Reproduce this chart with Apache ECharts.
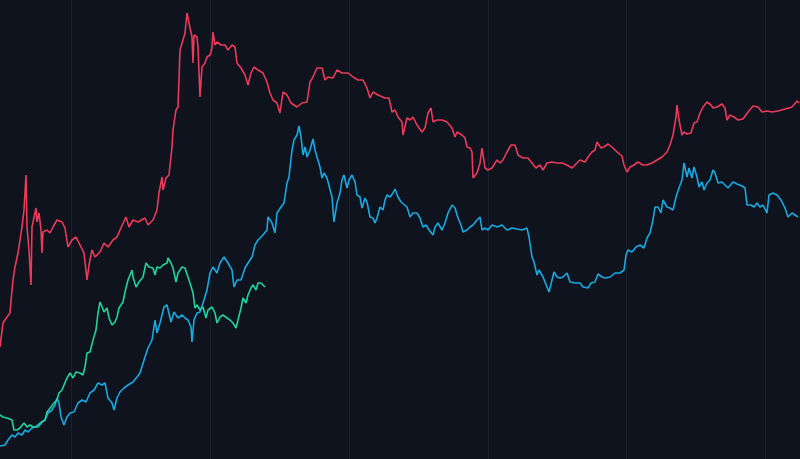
<!DOCTYPE html>
<html>
<head>
<meta charset="utf-8">
<script src="https://cdn.jsdelivr.net/npm/echarts@6/dist/echarts.min.js"></script>
<style>
html,body{margin:0;padding:0;background:#0e131e;}
#c{width:800px;height:459px;}
</style>
</head>
<body>
<div id="c"></div>
<script>
// x positions (time steps) and values for each cycle
const redX = [67,70,74,77,79,80,82,85,89,91,93,94,96,98,99,101,103,104,106,108,109,110,114,117,120,124,129,132,135,139,143,147,151,154,156,159,162,167,171,175,180,184,187,193,196,200,205,212,215,220,224,226,229,230,233,236,239,240,243,245,247,250,252,254,256,259,260,261,264,265,267,269,272,274,277,279,280,282,284,288,292,295,299,302,304,308,312,315,318,321,325,330,334,337,340,344,347,350,354,358,361,364,369,374,377,380,384,389,392,395,400,404,409,415,420,425,430,434,437,440,445,452,456,459,462,465,469,470,474,477,480,484,489,492,495,498,500,504,509,514,519,522,524,529,532,534,537,539,540,544,547,549,552,555,559,564,567,570,574,578,582,585,590,595,599,603,607,610,614,619,624,629,634,639,644,647,652,655,659,662,664,668,671,675,680,684,689,691,694,697,701,705,710,714,719,724,729,734,737,740,743,744,746,749,751,754,758,761,764,767,770,774,778,780,784,789,792,794,797,801,805,810,815,820,825,829,834,839,845,852,859,864,866];
const redY = [112,136,142,146,169,179,192,206,232,249,284,232,209,174,232,232,251,237,246,229,206,227,229,226,232,239,237,231,212,219,222,214,206,179,194,209,202,207,216,212,219,222,229,242,232,239,237,241,234,239,249,266,282,269,281,284,312,329,349,352,409,419,426,446,436,422,396,424,422,412,362,392,396,402,404,411,427,414,417,414,414,409,414,412,396,391,384,374,386,392,389,386,377,366,359,356,346,367,364,356,354,352,356,357,377,382,391,391,379,382,381,389,386,386,382,379,379,371,361,367,364,361,361,347,349,342,337,324,341,339,342,334,327,331,346,351,337,339,339,337,331,322,327,324,321,312,311,307,281,286,296,311,291,289,291,299,296,299,307,314,314,304,301,301,296,291,294,289,296,297,296,296,294,291,296,299,297,302,307,309,317,311,312,315,311,307,303,294,287,292,294,297,294,294,296,299,302,307,314,324,342,354,339,324,327,325,326,336,337,346,352,357,354,351,352,355,351,339,344,342,339,340,347,353,352,347,348,347,348,350,352,358,356];

const blueX = [67,72,75,79,82,85,89,92,95,99,102,107,112,115,119,122,124,126,128,131,134,137,141,145,149,153,157,161,165,169,172,175,179,181,184,187,191,195,200,204,207,212,215,219,222,224,227,231,234,238,241,245,249,252,255,258,259,261,264,267,270,274,277,280,284,287,291,295,299,301,304,308,312,315,319,322,325,330,334,335,339,342,344,348,351,354,356,359,361,364,366,368,370,372,374,377,380,382,384,387,389,391,394,396,399,401,404,407,409,411,414,416,419,422,424,427,429,432,434,437,440,442,444,447,450,452,454,457,460,462,465,468,470,474,477,480,484,487,490,493,496,500,502,505,509,512,515,519,522,525,528,530,534,537,540,544,547,549,552,555,559,564,569,574,579,584,589,594,596,599,601,604,606,610,614,616,619,621,624,627,630,634,637,642,647,650,655,658,662,665,669,672,677,682,687,691,693,695,699,703,707,711,714,717,720,722,725,728,730,734,737,740,743,746,749,751,754,756,759,761,764,766,769,771,774,777,780,782,785,789,792,795,800,804,809,812,814,818,821,824,827,830,834,836,840,844,848,852,855,859,862,865];
const blueY = [13,14,19,24,22,26,24,29,27,31,32,36,39,46,49,54,61,56,42,34,42,46,47,56,59,57,66,69,76,74,76,61,56,49,61,67,71,74,77,82,86,102,111,119,139,126,136,152,154,137,147,141,144,141,139,132,117,139,146,147,156,169,186,192,186,196,202,196,189,172,179,179,191,196,202,214,219,224,229,242,236,226,246,252,256,276,282,309,319,324,333,322,304,312,302,309,320,309,302,292,281,286,281,282,262,237,256,266,279,284,271,279,284,277,264,262,251,261,257,242,241,236,241,252,249,259,264,262,266,270,262,257,256,252,242,246,246,241,232,234,229,224,232,236,229,236,246,254,251,241,234,227,229,232,234,239,242,229,231,229,234,232,234,229,231,230,229,231,222,202,197,184,189,182,172,167,179,187,182,181,182,186,177,176,176,172,171,176,177,185,182,181,182,186,186,189,204,209,207,212,214,211,221,226,239,252,252,246,259,252,251,249,262,271,279,296,282,291,281,292,282,272,277,269,276,279,289,286,276,277,274,271,277,275,273,271,254,254,252,256,252,254,246,264,266,264,259,251,242,246,244,242];

const greenX = [67,70,74,79,81,84,87,91,94,97,100,105,109,112,114,118,121,124,126,129,131,134,137,140,143,147,150,152,154,157,160,163,165,167,169,171,174,176,179,182,184,186,190,192,195,199,200,203,206,210,213,216,220,222,224,227,230,234,235,238,240,243,245,249,252,254,257,260,262,264,267,270,273,275,279,282,284,287,290,294,297,300,303,305,308,310,313,315,318,320,323,325,328,330,332];
const greenY = [44,42,41,39,29,29,31,36,32,34,32,32,37,39,47,52,56,59,66,69,74,81,86,81,87,86,84,92,106,107,119,129,146,157,159,147,151,141,134,137,142,151,157,167,179,189,182,172,177,182,196,192,191,184,192,191,194,196,201,196,191,177,186,192,191,189,176,166,151,154,149,152,141,149,152,146,136,142,144,141,139,136,131,139,151,161,156,164,171,174,169,176,176,174,172];

const xMin = 0, xMax = 867, xStep = 138.7;

function pairs(xs, ys) { return xs.map((x, i) => [x, ys[i]]); }

const chart = echarts.init(document.getElementById('c'), null, {renderer: 'canvas'});
chart.setOption({
  backgroundColor: '#0e131e',
  animation: false,
  grid: {left: -67, width: 867, top: 0, height: 459, containLabel: false, outerBoundsMode: 'none'},
  xAxis: {
    type: 'value', min: xMin, max: xMax, interval: xStep,
    axisLine: {show: false}, axisTick: {show: false}, axisLabel: {show: false},
    splitLine: {show: true, lineStyle: {color: '#1a202c', width: 1}}
  },
  yAxis: {
    type: 'value', min: 0, max: 459,
    axisLine: {show: false}, axisTick: {show: false}, axisLabel: {show: false},
    splitLine: {show: false}
  },
  series: [
    {type: 'line', data: pairs(redX, redY), showSymbol: false, symbol: 'none', clip: false,
     lineStyle: {color: '#ec3a58', width: 1.6}, itemStyle: {color: '#ec3a58'}},
    {type: 'line', data: pairs(blueX, blueY), showSymbol: false, symbol: 'none', clip: false,
     lineStyle: {color: '#19a9e3', width: 1.6}, itemStyle: {color: '#19a9e3'}},
    {type: 'line', data: pairs(greenX, greenY), showSymbol: false, symbol: 'none', clip: false,
     lineStyle: {color: '#22d49a', width: 1.6}, itemStyle: {color: '#22d49a'}}
  ]
});
</script>
</body>
</html>
